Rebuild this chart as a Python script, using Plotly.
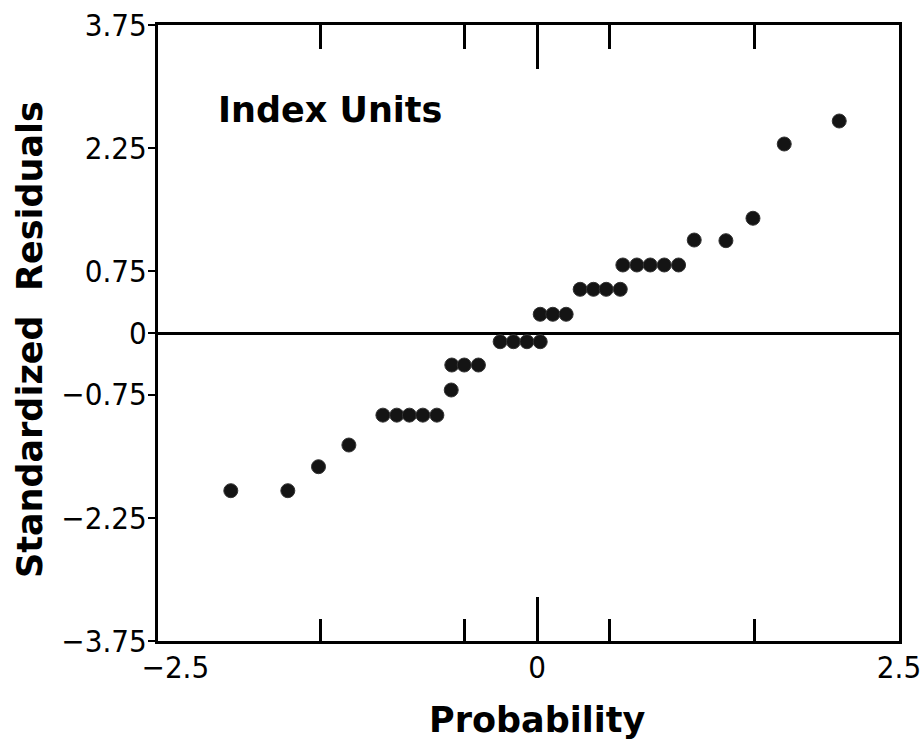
import plotly.graph_objects as go

# Data (normal probability plot of standardized residuals)
prob = [-2.117, -1.723, -1.511, -1.301,
        -1.066, -0.970, -0.883, -0.790, -0.693,
        -0.594,
        -0.590, -0.504, -0.406,
        -0.256, -0.164, -0.071, 0.021,
        0.021, 0.108, 0.200,
        0.297, 0.389, 0.477, 0.574,
        0.592, 0.689, 0.781, 0.878, 0.977,
        1.085, 1.304, 1.491, 1.707, 2.087]
resid = [-1.92, -1.92, -1.628, -1.364,
         -1.0, -1.0, -1.0, -1.0, -1.0,
         -0.694,
         -0.39, -0.39, -0.39,
         -0.106, -0.106, -0.106, -0.106,
         0.228, 0.228, 0.228,
         0.532, 0.532, 0.532, 0.532,
         0.828, 0.828, 0.828, 0.828, 0.828,
         1.132, 1.124, 1.397, 2.301, 2.581]

x_tickvals = [-2.5, 0, 2.5]
x_ticktext = ["\u22122.5", "0", "2.5"]
x_minor_ticks = [-1.5, -0.5, 0.5, 1.5]
y_tickvals = [-3.75, -2.25, -0.75, 0, 0.75, 2.25, 3.75]
y_ticktext = ["\u22123.75", "\u22122.25", "\u22120.75", "0", "0.75", "2.25", "3.75"]

tick_font = dict(family="Liberation Sans Narrow, DejaVu Sans Condensed, Arial Narrow, sans-serif",
                 size=31, color="black")
title_font = dict(family="DejaVu Sans, Verdana, sans-serif", size=35, color="black", weight="bold")

fig = go.Figure()
fig.add_trace(go.Scatter(
    x=prob, y=resid, mode="markers",
    marker=dict(size=14, color="#141414", line=dict(width=1, color="#333333")),
    showlegend=False, hoverinfo="skip",
))

fig.update_layout(
    width=920, height=746,
    margin=dict(l=158, r=21, t=25, b=105),
    paper_bgcolor="white", plot_bgcolor="white",
    xaxis=dict(
        range=[-2.62, 2.5], tickmode="array", tickvals=x_tickvals, ticktext=x_ticktext,
        ticks="", showgrid=False, zeroline=False, automargin=False,
        showline=True, linecolor="black", linewidth=3, mirror=True,
        tickfont=tick_font, ticklabelstandoff=-3, ticklabeloverflow="allow",
        minor=dict(tickmode="array", tickvals=x_minor_ticks, ticks="inside",
                   ticklen=22, tickwidth=2.5, tickcolor="black", showgrid=False),
    ),
    xaxis2=dict(
        overlaying="x", matches="x", side="bottom", tickmode="array", tickvals=[0],
        ticks="inside", ticklen=44, tickwidth=2.5, tickcolor="black", automargin=False,
        showticklabels=False, showgrid=False, zeroline=False, showline=False,
        mirror="ticks",
    ),
    xaxis3=dict(
        overlaying="x", matches="x", side="top", anchor="y", tickmode="array",
        tickvals=x_minor_ticks, ticks="inside", ticklen=24, tickwidth=2.5, tickcolor="black",
        showticklabels=False, showgrid=False, zeroline=False, showline=False, automargin=False,
    ),
    yaxis=dict(
        range=[-3.75, 3.75], tickmode="array", tickvals=y_tickvals, ticktext=y_ticktext,
        ticks="outside", ticklen=7, tickwidth=2, tickcolor="black", automargin=False,
        showgrid=False, zeroline=True, zerolinecolor="black", zerolinewidth=2.5,
        showline=True, linecolor="black", linewidth=3, mirror=True,
        tickfont=tick_font, ticklabelstandoff=-5,
    ),
    annotations=[
        dict(text="Index Units", x=-1.43, y=2.72, xref="x", yref="y",
             showarrow=False, xanchor="center", yanchor="middle", font=title_font),
        dict(text="Probability", x=0.5115, y=-0.128, xref="paper", yref="paper",
             showarrow=False, xanchor="center", yanchor="middle", font=title_font),
        dict(text="Standardized  Residuals", x=-0.1727, y=0.4886, xref="paper", yref="paper",
             showarrow=False, xanchor="center", yanchor="middle", textangle=-90, font=title_font),
    ],
)
# dummy traces to activate the overlay tick axes
fig.add_trace(go.Scatter(x=[0], y=[None], xaxis="x2", showlegend=False, hoverinfo="skip"))
fig.add_trace(go.Scatter(x=[0], y=[None], xaxis="x3", showlegend=False, hoverinfo="skip"))

fig.write_html("out.html")
